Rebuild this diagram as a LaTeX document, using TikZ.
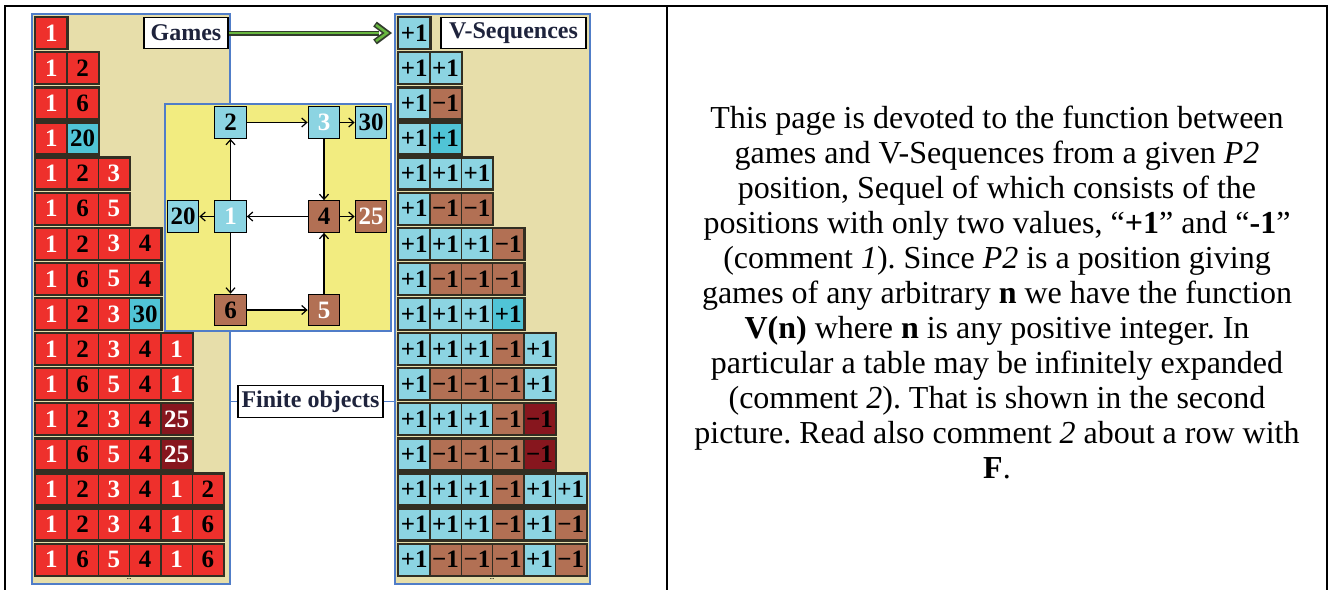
\documentclass[tikz,border=0pt]{standalone}
\usepackage{fontspec}
\setmainfont{Liberation Serif}
\usepackage{xcolor}
\usepackage{tikz}
\usetikzlibrary{arrows.meta, positioning}

\definecolor{panelbg}{RGB}{231,222,170}
\definecolor{panelln}{RGB}{80,125,200}
\definecolor{gred}{RGB}{238,48,44}
\definecolor{cyanl}{RGB}{140,212,226}
\definecolor{cyand}{RGB}{80,196,214}
\definecolor{brownc}{RGB}{178,112,84}
\definecolor{darkr}{RGB}{135,22,30}
\definecolor{yellowp}{RGB}{242,236,128}
\definecolor{arrowg}{RGB}{104,184,64}
\definecolor{arrowdk}{RGB}{50,60,45}
\definecolor{rowln}{RGB}{50,46,34}
\definecolor{labtxt}{RGB}{30,35,60}

\newcommand\cellfont{\bfseries\fontsize{25}{25}\selectfont}

\tikzset{
  panel/.style={draw=panelln, line width=1.5pt, fill=panelbg, inner sep=0pt, anchor=north west},
  cell/.style={draw=rowln, line width=1.3pt, minimum width=31.3pt, minimum height=31pt,
    inner sep=0pt, anchor=north west, font=\cellfont},
  rowframe/.style={draw=rowln, line width=2pt},
  tag/.style={draw=black, line width=1.3pt, fill=white, minimum height=31.5pt, inner sep=0pt,
    text=labtxt, font=\bfseries\fontsize{24}{24}\selectfont},
  gpos/.style={draw=black, line width=1.3pt, minimum size=31.5pt, inner sep=0pt, font=\cellfont},
  more/.style={font=\bfseries\fontsize{6}{6}\selectfont, inner sep=0pt},
  % o trong bang tro choi
  g1/.style={fill=gred, text=white}, g2/.style={fill=gred, text=black},
  g3/.style={fill=gred, text=white}, g4/.style={fill=gred, text=black},
  g5/.style={fill=gred, text=white}, g6/.style={fill=gred, text=black},
  g20/.style={fill=cyand, text=black}, g30/.style={fill=cyand, text=black},
  g25/.style={fill=darkr, text=white},
  % o trong bang V
  vp/.style={fill=cyanl, text=black, node contents={+1}},
  vq/.style={fill=cyand, text=black, node contents={+1}},
  vm/.style={fill=brownc, text=black, node contents={−1}},
  vn/.style={fill=darkr, text=black, node contents={−1}},
}

\begin{document}
\begin{tikzpicture}[>={Straight Barb[length=5pt, width=9pt]}, x=1pt, y=-1pt]
    \useasboundingbox (0,0) rectangle (1330,590);

    % Khung bang
    \draw[line width=2.5pt] (4,6) -- (1328,6);
    \draw[line width=2pt] (5,6) -- (5,590);
    \draw[line width=1.5pt] (667,6) -- (667,590);
    \draw[line width=2pt] (1327,6) -- (1327,590);

    % Hai nen
    \node[panel, minimum width=198pt, minimum height=570pt] (gpanel) at (31,13) {};
    \node[panel, minimum width=195pt, minimum height=570pt] (vpanel) at (394,13) {};

    % Bang tro choi
    \foreach \row [count=\r] in {{1},{1,2},{1,6},{1,20},{1,2,3},{1,6,5},{1,2,3,4},{1,6,5,4},
        {1,2,3,30},{1,2,3,4,1},{1,6,5,4,1},{1,2,3,4,25},{1,6,5,4,25},{1,2,3,4,1,2},
        {1,2,3,4,1,6},{1,6,5,4,1,6}} {
        \foreach \v [count=\k] in \row {
            \node[cell, g\v] (g-\r-\k) at ({35+(\k-1)*31.3}, {17+(\r-1)*35.1}) {\v};
            \xdef\lastk{\k}
        }
        \draw[rowframe] (g-\r-1.north west) rectangle (g-\r-\lastk.south east);
    }

    % Bang V
    \foreach \row [count=\r] in {{vp},{vp,vp},{vp,vm},{vp,vq},{vp,vp,vp},{vp,vm,vm},
        {vp,vp,vp,vm},{vp,vm,vm,vm},{vp,vp,vp,vq},{vp,vp,vp,vm,vp},{vp,vm,vm,vm,vp},
        {vp,vp,vp,vm,vn},{vp,vm,vm,vm,vn},{vp,vp,vp,vm,vp,vp},{vp,vp,vp,vm,vp,vm},
        {vp,vm,vm,vm,vp,vm}} {
        \foreach \s [count=\k] in \row {
            \node[cell, \s, name=v-\r-\k, at={({398+(\k-1)*31.3}, {17+(\r-1)*35.1})}];
            \xdef\lastk{\k}
        }
        \draw[rowframe] (v-\r-1.north west) rectangle (v-\r-\lastk.south east);
    }

    % Nhan
    \node[tag, minimum width=84pt] (games) at (186,33) {Games};
    \node[tag, minimum width=145pt] (vseq) at (513.5,33) {V-Sequences};
    \node[more] (gdots) at (129,579.5) {...};
    \node[more] (vdots) at (492,579.5) {...};

    % Mui ten xanh
    \coordinate (tip) at ([xshift=-7pt]vpanel.west |- games.east);
    \draw[line width=5pt, arrowdk] (games.east) -- ([xshift=-8pt]tip);
    \draw[line width=2pt, arrowg] (games.east) -- ([xshift=-8pt]tip);
    \draw[line width=6pt, arrowdk, line join=miter] ([shift={(-12,-9)}]tip) -- (tip) -- ([shift={(-12,9)}]tip);
    \draw[line width=2.5pt, arrowg, line join=miter] ([shift={(-11,-8)}]tip) -- (tip) -- ([shift={(-11,8)}]tip);

    % Do thi vi tri
    \node[panel, fill=yellowp, minimum width=226pt, minimum height=227pt] (ypanel) at (164,103) {};
    \fill[white] (230.5,122.5) rectangle (324,310);
    \node[gpos, fill=cyanl] (n2) at (230.5,122.5) {2};
    \node[gpos, fill=cyanl, text=white] (n3) at (324,122.5) {3};
    \node[gpos, fill=cyanl] (n30) at (371,122.5) {30};
    \node[gpos, fill=cyanl] (n20) at (183,216.5) {20};
    \node[gpos, fill=cyanl, text=white] (n1) at (230.5,216.5) {1};
    \node[gpos, fill=brownc] (n4) at (324,216.5) {4};
    \node[gpos, fill=brownc, text=white] (n25) at (371,216.5) {25};
    \node[gpos, fill=brownc] (n6) at (230.5,310) {6};
    \node[gpos, fill=brownc, text=white] (n5) at (324,310) {5};

    \draw[->, line width=1.2pt] (n1) -- (n2);
    \draw[->, line width=1.2pt] (n2) -- (n3);
    \draw[->, line width=1.2pt] (n3) -- (n30);
    \draw[->, line width=1.2pt] (n3) -- (n4);
    \draw[->, line width=1.2pt] (n4) -- (n1);
    \draw[->, line width=1.2pt] (n4) -- (n25);
    \draw[->, line width=1.2pt] (n1) -- (n20);
    \draw[->, line width=1.2pt] (n1) -- (n6);
    \draw[->, line width=1.2pt] (n6) -- (n5);
    \draw[->, line width=1.2pt] (n5) -- (n4);

    % Doi tuong huu han
    \node[tag, minimum width=145pt] (fin) at (310.5,401.5) {Finite objects};
    \draw[panelln, line width=1.5pt] (gpanel.east |- fin.west) -- (fin.west);
    \draw[panelln, line width=1.5pt] (fin.east) -- (vpanel.west |- fin.east);

    % Van ban
    \node[font=\fontsize{32}{35}\selectfont\frenchspacing, align=center] (txt) at (997,292) {%
        This page is devoted to the function between\\
        games and V-Sequences from a given \textit{P2}\\
        position, Sequel of which consists of the\\
        positions with only two values, “\textbf{+1}” and “\textbf{-1}”\\
        (comment \textit{1}). Since \textit{P2} is a position giving\\
        games of any arbitrary \textbf{n} we have the function\\
        \textbf{V(n)} where \textbf{n} is any positive integer. In\\
        particular a table may be infinitely expanded\\
        (comment \textit{2}). That is shown in the second\\
        picture. Read also comment \textit{2} about a row with\\
        \textbf{F}.};
\end{tikzpicture}
\end{document}
